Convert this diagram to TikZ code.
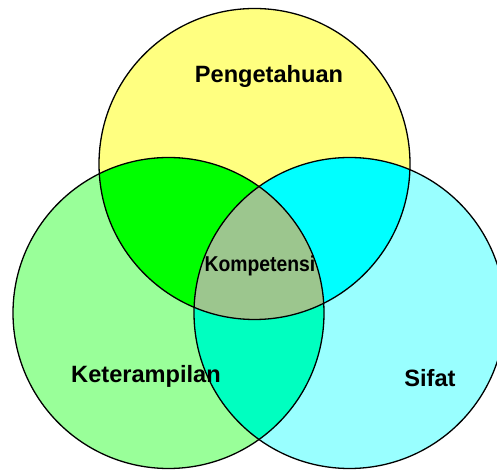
\documentclass[tikz,border=0pt]{standalone}
\usepackage{fontspec}
\setmainfont{Liberation Sans}
\usepackage{tikz}
\usetikzlibrary{positioning}
\definecolor{kuning}{RGB}{255,255,128}
\definecolor{hijaumuda}{RGB}{153,255,153}
\definecolor{birumuda}{RGB}{153,255,255}
\definecolor{hijau}{RGB}{0,255,0}
\definecolor{biru}{RGB}{0,255,255}
\definecolor{tosca}{RGB}{0,255,192}
\definecolor{tengah}{RGB}{156,198,142}

\begin{document}
\begin{tikzpicture}[x=1pt, y=1pt, lbl/.style={font=\fontsize{23.6}{28}\selectfont\bfseries,
		inner sep=0pt, anchor=base}]
	\useasboundingbox (0,0) rectangle (497,470);
	\coordinate (peng) at (254.5,306);
	\coordinate (ket) at (168.5,157);
	\coordinate (sif) at (349.5,157);
	\begin{scope}
		\clip (0,0) rectangle (497,470);
		\fill[kuning] (peng) circle (155.5);
		\fill[hijaumuda] (ket) circle (155.5);
		\fill[birumuda] (sif) circle (155.5);
		\begin{scope}
			\clip (peng) circle (155.5);
			\fill[hijau] (ket) circle (155.5);
			\fill[biru] (sif) circle (155.5);
		\end{scope}
		\begin{scope}
			\clip (ket) circle (155.5);
			\fill[tosca] (sif) circle (155.5);
			\clip (sif) circle (155.5);
			\fill[tengah] (peng) circle (155.5);
		\end{scope}
		\draw[line width=1.3pt] (peng) circle (155.5);
		\draw[line width=1.3pt] (ket) circle (155.5);
		\draw[line width=1.3pt] (sif) circle (155.5);
	\end{scope}
	\node[lbl] (pengetahuan) at (269,387) {Pengetahuan};
	\node[lbl, font=\fontsize{21.5}{26}\selectfont\bfseries, xscale=0.9] (kompetensi) at (260,198) {Kompetensi};
	\node[lbl] (keterampilan) at (146,87) {Keterampilan};
	\node[lbl] (sifat) at (430,83) {Sifat};
	\end{tikzpicture}
\end{document}
